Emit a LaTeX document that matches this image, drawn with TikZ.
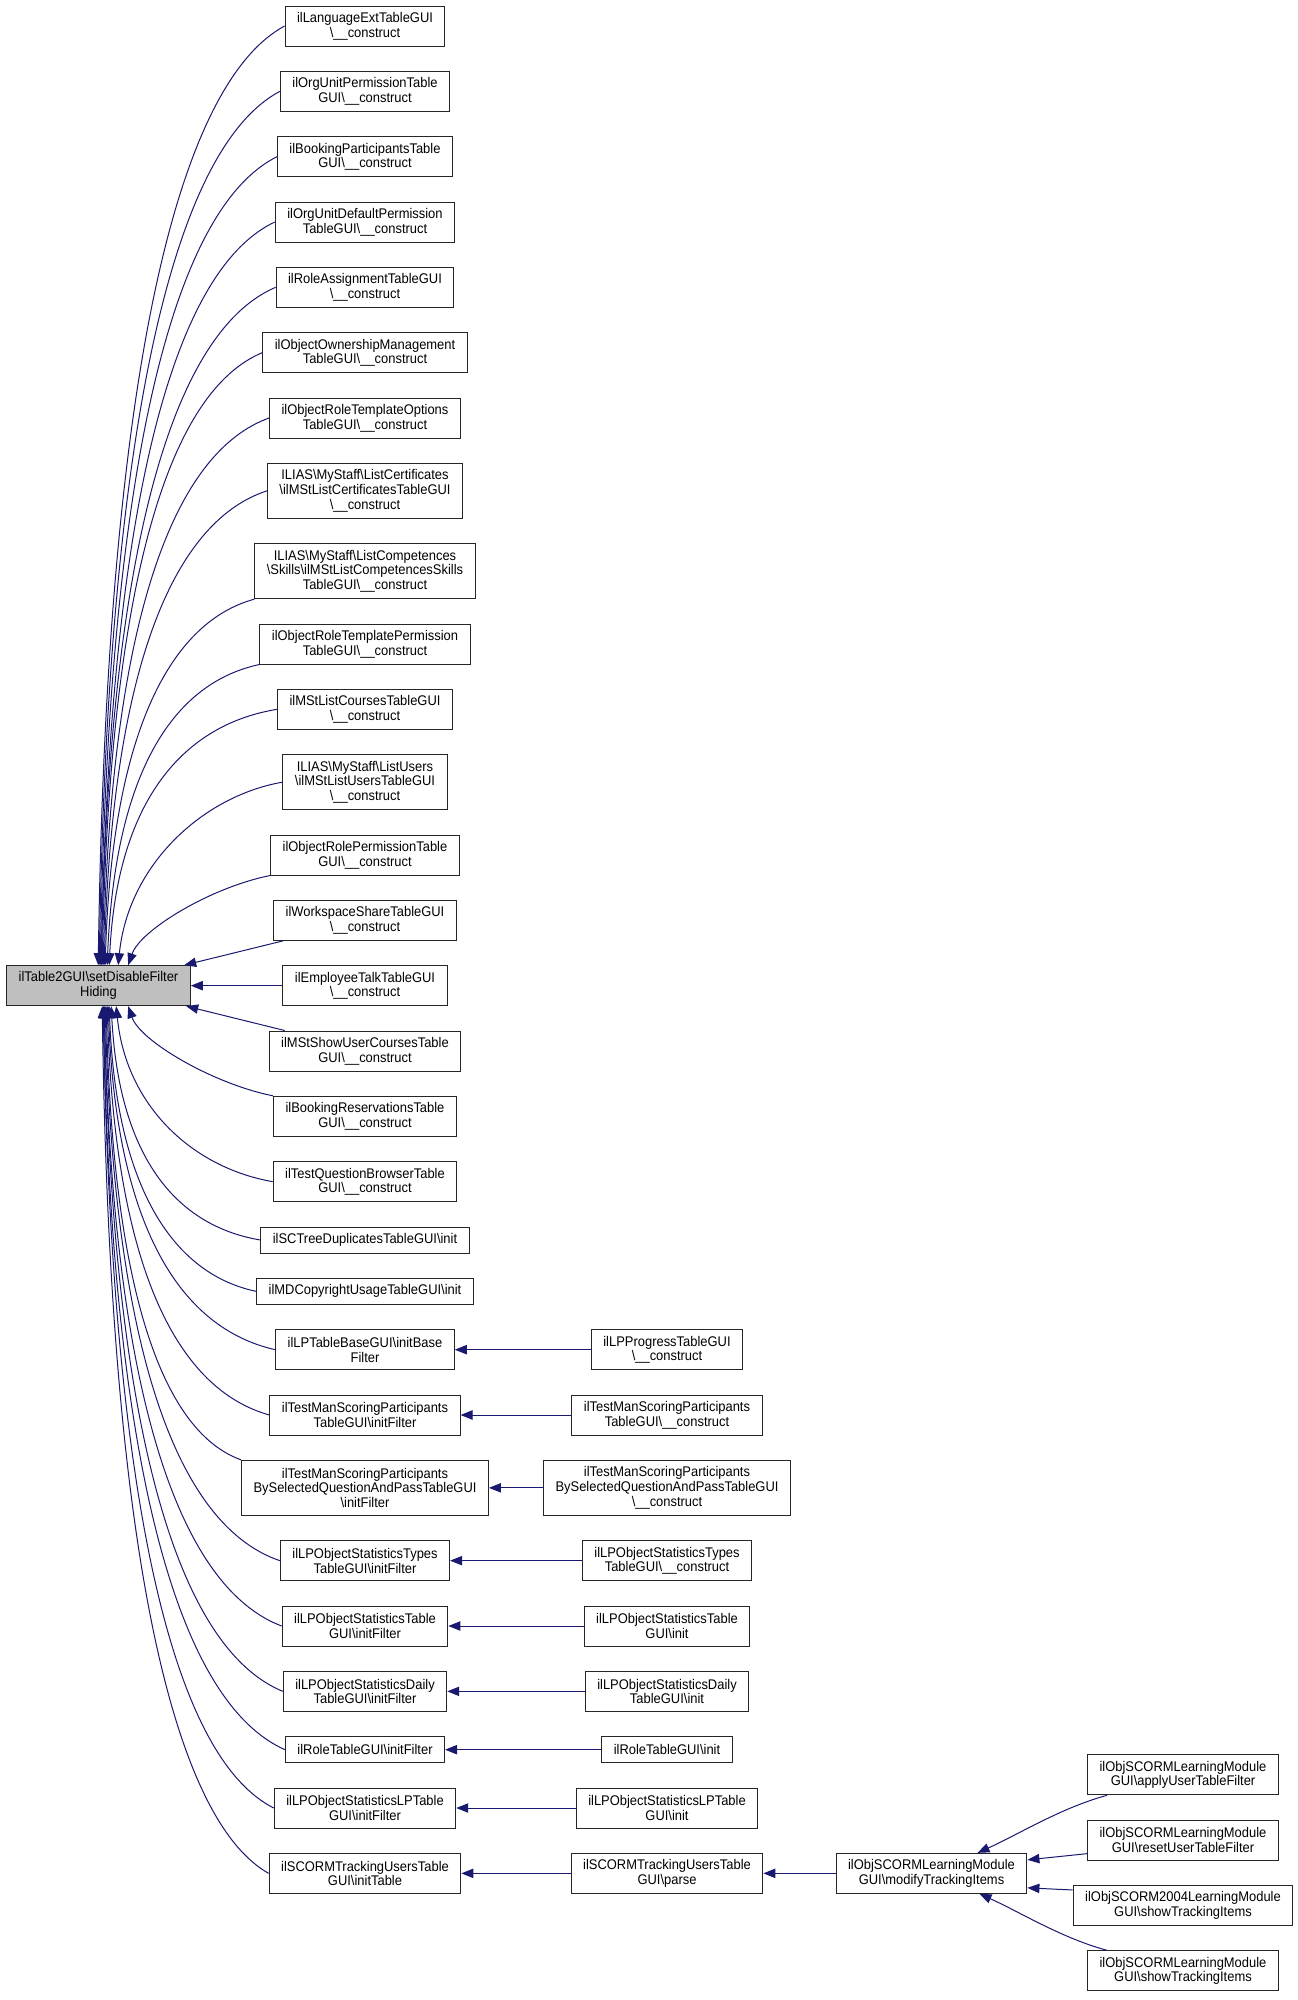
\documentclass[tikz,border=0pt]{standalone}
\usepackage{fontspec}
\setmainfont{Liberation Sans}[FakeStretch=0.924]
\usetikzlibrary{arrows.meta, positioning, calc}
\definecolor{edgeblue}{HTML}{191970}
\definecolor{focusgray}{HTML}{BFBFBF}
\newcommand{\bsl}{\textbackslash}

\begin{document}
\begin{tikzpicture}[x=0.75pt, y=-0.75pt, node distance=18.25pt,
  fnbox/.style={draw=black!85, line width=0.75pt, fill=white, align=center,
    font=\fontsize{10.5}{11}\selectfont, inner xsep=9pt, inner ysep=1pt,
    minimum height=19.5pt},
  l2/.style={minimum height=30pt},
  l3/.style={minimum height=41.25pt},
  call/.style={draw=edgeblue, line width=0.75pt, {Triangle[length=9pt, width=7pt]}-}]
  \fill[white] (0,0) rectangle (1297,2000);
  \useasboundingbox (0,0) rectangle (1297,2000);

  % column of direct callers
  \node[fnbox,l2] (c1) at (365,26) {ilLanguageExtTableGUI\\\bsl\_\_construct};
  \node[fnbox,l2,below=of c1] (c2) {ilOrgUnitPermissionTable\\GUI\bsl\_\_construct};
  \node[fnbox,l2,below=of c2] (c3) {ilBookingParticipantsTable\\GUI\bsl\_\_construct};
  \node[fnbox,l2,below=of c3] (c4) {ilOrgUnitDefaultPermission\\TableGUI\bsl\_\_construct};
  \node[fnbox,l2,below=of c4] (c5) {ilRoleAssignmentTableGUI\\\bsl\_\_construct};
  \node[fnbox,l2,below=of c5] (c6) {ilObjectOwnershipManagement\\TableGUI\bsl\_\_construct};
  \node[fnbox,l2,below=of c6] (c7) {ilObjectRoleTemplateOptions\\TableGUI\bsl\_\_construct};
  \node[fnbox,l3,below=of c7] (c8) {ILIAS\bsl MyStaff\bsl ListCertificates\\\bsl ilMStListCertificatesTableGUI\\\bsl\_\_construct};
  \node[fnbox,l3,below=of c8] (c9) {ILIAS\bsl MyStaff\bsl ListCompetences\\\bsl Skills\bsl ilMStListCompetencesSkills\\TableGUI\bsl\_\_construct};
  \node[fnbox,l2,below=of c9] (c10) {ilObjectRoleTemplatePermission\\TableGUI\bsl\_\_construct};
  \node[fnbox,l2,below=of c10] (c11) {ilMStListCoursesTableGUI\\\bsl\_\_construct};
  \node[fnbox,l3,below=of c11] (c12) {ILIAS\bsl MyStaff\bsl ListUsers\\\bsl ilMStListUsersTableGUI\\\bsl\_\_construct};
  \node[fnbox,l2,below=of c12] (c13) {ilObjectRolePermissionTable\\GUI\bsl\_\_construct};
  \node[fnbox,l2,below=of c13] (c14) {ilWorkspaceShareTableGUI\\\bsl\_\_construct};
  \node[fnbox,l2,below=of c14] (c15) {ilEmployeeTalkTableGUI\\\bsl\_\_construct};
  \node[fnbox,l2,below=of c15] (c16) {ilMStShowUserCoursesTable\\GUI\bsl\_\_construct};
  \node[fnbox,l2,below=of c16] (c17) {ilBookingReservationsTable\\GUI\bsl\_\_construct};
  \node[fnbox,l2,below=of c17] (c18) {ilTestQuestionBrowserTable\\GUI\bsl\_\_construct};
  \node[fnbox,below=of c18] (c19) {ilSCTreeDuplicatesTableGUI\bsl init};
  \node[fnbox,below=of c19] (c20) {ilMDCopyrightUsageTableGUI\bsl init};
  \node[fnbox,l2,below=of c20] (c21) {ilLPTableBaseGUI\bsl initBase\\Filter};
  \node[fnbox,l2,below=of c21] (c22) {ilTestManScoringParticipants\\TableGUI\bsl initFilter};
  \node[fnbox,l3,below=of c22] (c23) {ilTestManScoringParticipants\\BySelectedQuestionAndPassTableGUI\\\bsl initFilter};
  \node[fnbox,l2,below=of c23] (c24) {ilLPObjectStatisticsTypes\\TableGUI\bsl initFilter};
  \node[fnbox,l2,below=of c24] (c25) {ilLPObjectStatisticsTable\\GUI\bsl initFilter};
  \node[fnbox,l2,below=of c25] (c26) {ilLPObjectStatisticsDaily\\TableGUI\bsl initFilter};
  \node[fnbox,below=of c26] (c27) {ilRoleTableGUI\bsl initFilter};
  \node[fnbox,l2,below=of c27] (c28) {ilLPObjectStatisticsLPTable\\GUI\bsl initFilter};
  \node[fnbox,l2,below=of c28] (c29) {ilSCORMTrackingUsersTable\\GUI\bsl initTable};

  % the documented function
  \coordinate (colA) at (98.5,0);
  \node[fnbox,l2,fill=focusgray] (main) at (c15 -| colA) {ilTable2GUI\bsl setDisableFilter\\Hiding};

  % second level callers
  \coordinate (colB) at (667,0);
  \node[fnbox,l2] (d21) at (c21 -| colB) {ilLPProgressTableGUI\\\bsl\_\_construct};
  \node[fnbox,l2] (d22) at (c22 -| colB) {ilTestManScoringParticipants\\TableGUI\bsl\_\_construct};
  \node[fnbox,l3] (d23) at (c23 -| colB) {ilTestManScoringParticipants\\BySelectedQuestionAndPassTableGUI\\\bsl\_\_construct};
  \node[fnbox,l2] (d24) at (c24 -| colB) {ilLPObjectStatisticsTypes\\TableGUI\bsl\_\_construct};
  \node[fnbox,l2] (d25) at (c25 -| colB) {ilLPObjectStatisticsTable\\GUI\bsl init};
  \node[fnbox,l2] (d26) at (c26 -| colB) {ilLPObjectStatisticsDaily\\TableGUI\bsl init};
  \node[fnbox] (d27) at (c27 -| colB) {ilRoleTableGUI\bsl init};
  \node[fnbox,l2] (d28) at (c28 -| colB) {ilLPObjectStatisticsLPTable\\GUI\bsl init};
  \node[fnbox,l2] (d29) at (c29 -| colB) {ilSCORMTrackingUsersTable\\GUI\bsl parse};

  % SCORM module chain
  \coordinate (colC) at (931.5,0);
  \coordinate (colD) at (1183,0);
  \node[fnbox,l2] (m) at (c29 -| colC) {ilObjSCORMLearningModule\\GUI\bsl modifyTrackingItems};
  \node[fnbox,l2,anchor=south] (e2) at ($(m -| colD)+(0,-12.7)$) {ilObjSCORMLearningModule\\GUI\bsl resetUserTableFilter};
  \node[fnbox,l2,above=of e2] (e1) {ilObjSCORMLearningModule\\GUI\bsl applyUserTableFilter};
  \node[fnbox,l2,below=of e2] (e3) {ilObjSCORM2004LearningModule\\GUI\bsl showTrackingItems};
  \node[fnbox,l2,below=of e3] (e4) {ilObjSCORMLearningModule\\GUI\bsl showTrackingItems};

  % callers above
  \foreach \c/\t/\a/\b/\p/\q in {c1.west/92/9/-612/-103/56, c2.west/93/9/-569/-100/53,
      c3.west/94/9/-527/-98/49, c4.west/95/9/-484/-96/45, c5.west/95/9/-442/-96/41,
      c6.west/96/8/-400/-89/37, c7.west/97/8/-357/-92/33, c8.west/98/8/-309/-89/29,
      c9.south west/99/7/-239/-81/22, c10.south west/101/8/-197/-84/18,
      c11.west/103/8/-167/-92/15, c12.west/112/10/-100/-80/14,
      c13.south west/122/12/-35/-60/12}{
    \draw[call] ($(main.north west)+(\t,0)$) .. controls +(\a,\b) and +(\p,\q) .. (\c);
  }
  \draw[call] ($(main.north west)+(178,0)$) -- ($(c14.south west)+(10,0)$);
  \draw[call] (main.east) -- (c15.west);

  % callers below
  \draw[call] ($(main.south west)+(180,0)$) -- ($(c16.north west)+(16,0)$);
  \foreach \c/\t/\a/\b/\p/\q in {c17.north west/122/12/35/-60/-12, c18.west/110/10/100/-80/-14,
      c19.west/105/8/153/-83/-14, c20.west/103/7/185/-81/-17, c21.west/102/8/224/-93/-21,
      c22.west/101/8/267/-90/-25, c23.north west/100/7/296/-75/-27,
      c24.west/99/9/361/-97/-33, c25.west/98/9/404/-98/-37, c26.west/98/9/447/-99/-41,
      c27.west/97/9/484/-101/-45, c28.west/97/9/523/-95/-48, c29.west/96/8/565/-92/-52}{
    \draw[call] ($(main.south west)+(\t,0)$) .. controls +(\a,\b) and +(\p,\q) .. (\c);
  }

  % second level edges
  \foreach \n in {21,...,29}{
    \draw[call] (c\n.east) -- (d\n.west);
  }
  \draw[call] (d29.east) -- (m.west);
  \draw[call] ($(m.north)+(46,0)$) .. controls +(40,-18) and +(-45,12) .. ($(e1.south west)+(20,0)$);
  \draw[call] ($(m.north east)+(0,7)$) -- ($(e2.south west)+(0,-7)$);
  \draw[call] ($(m.south east)+(0,-6)$) -- ($(e3.north west)+(0,5)$);
  \draw[call] ($(m.south)+(48,0)$) .. controls +(40,18) and +(-45,-12) .. ($(e4.north west)+(20,0)$);
\end{tikzpicture}
\end{document}
